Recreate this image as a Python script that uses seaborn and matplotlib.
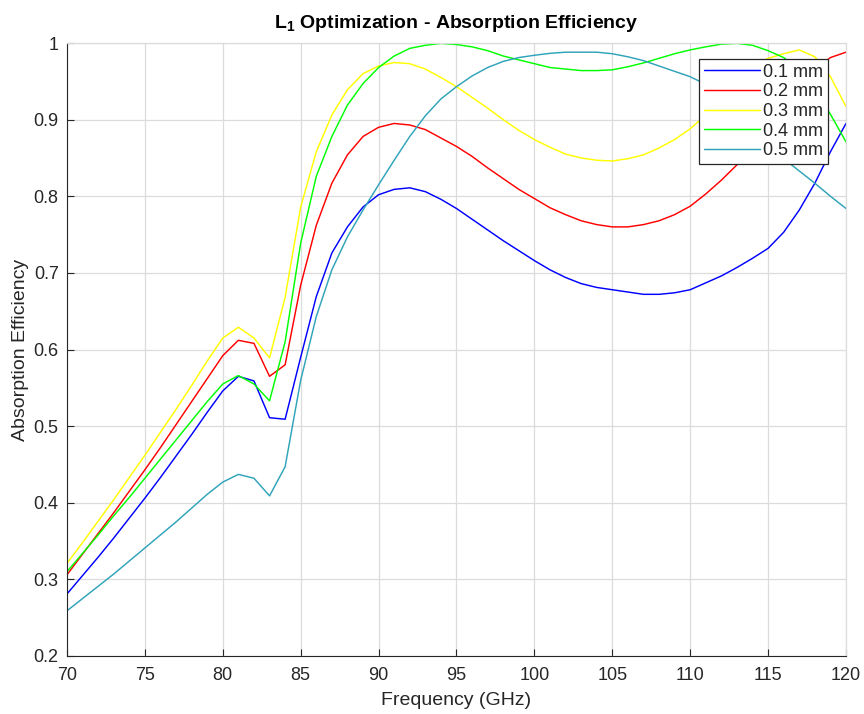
import matplotlib
matplotlib.use("Agg")
import matplotlib.pyplot as plt
import seaborn as sns
import pandas as pd
from matplotlib.ticker import FuncFormatter, MultipleLocator

# Frequency sweep (GHz) and absorption efficiency for each layer thickness
freq = list(range(70, 121))

eff_01 = [0.281, 0.305, 0.329, 0.354, 0.380, 0.406, 0.433, 0.461, 0.489, 0.518,
          0.546, 0.565, 0.559, 0.511, 0.509, 0.590, 0.669, 0.726, 0.760, 0.786,
          0.802, 0.809, 0.811, 0.806, 0.796, 0.784, 0.770, 0.756, 0.742, 0.729,
          0.716, 0.704, 0.694, 0.686, 0.681, 0.678, 0.675, 0.672, 0.672, 0.674,
          0.678, 0.687, 0.696, 0.707, 0.719, 0.732, 0.753, 0.782, 0.817, 0.858,
          0.895]
eff_02 = [0.306, 0.333, 0.360, 0.387, 0.415, 0.443, 0.472, 0.502, 0.532, 0.562,
          0.592, 0.612, 0.608, 0.565, 0.580, 0.684, 0.762, 0.817, 0.854, 0.878,
          0.890, 0.895, 0.893, 0.887, 0.876, 0.865, 0.852, 0.837, 0.823, 0.809,
          0.797, 0.785, 0.776, 0.768, 0.763, 0.760, 0.760, 0.763, 0.768, 0.776,
          0.787, 0.803, 0.821, 0.841, 0.865, 0.890, 0.915, 0.940, 0.965, 0.981,
          0.988]
eff_03 = [0.321, 0.348, 0.376, 0.404, 0.433, 0.462, 0.492, 0.522, 0.553, 0.585,
          0.615, 0.629, 0.615, 0.589, 0.668, 0.786, 0.858, 0.906, 0.939, 0.960,
          0.970, 0.9745, 0.973, 0.966, 0.955, 0.943, 0.929, 0.915, 0.900, 0.886,
          0.874, 0.864, 0.855, 0.850, 0.847, 0.846, 0.849, 0.854, 0.863, 0.874,
          0.888, 0.906, 0.930, 0.953, 0.970, 0.980, 0.986, 0.991, 0.982, 0.956,
          0.917]
eff_04 = [0.310, 0.334, 0.358, 0.383, 0.407, 0.432, 0.457, 0.482, 0.507, 0.532,
          0.555, 0.566, 0.555, 0.533, 0.610, 0.739, 0.826, 0.878, 0.919, 0.947,
          0.968, 0.983, 0.993, 0.997, 0.9995, 0.998, 0.995, 0.990, 0.983, 0.978,
          0.973, 0.968, 0.966, 0.964, 0.964, 0.965, 0.969, 0.974, 0.980, 0.986,
          0.991, 0.995, 0.9985, 0.9995, 0.997, 0.990, 0.981, 0.965, 0.940, 0.907,
          0.871]
eff_05 = [0.259, 0.275, 0.291, 0.307, 0.324, 0.341, 0.358, 0.375, 0.393, 0.411,
          0.427, 0.437, 0.432, 0.409, 0.447, 0.560, 0.643, 0.704, 0.747, 0.782,
          0.815, 0.847, 0.878, 0.905, 0.927, 0.943, 0.957, 0.968, 0.976, 0.981,
          0.984, 0.9865, 0.988, 0.988, 0.988, 0.986, 0.982, 0.977, 0.970, 0.963,
          0.956, 0.946, 0.932, 0.913, 0.893, 0.871, 0.849, 0.833, 0.817, 0.800,
          0.784]

thickness = ["0.1 mm", "0.2 mm", "0.3 mm", "0.4 mm", "0.5 mm"]
series = [eff_01, eff_02, eff_03, eff_04, eff_05]
colors = ["#0000ff", "#ff0000", "#ffff00", "#00ff00", "#2fa3b9"]

df = pd.concat(
    [pd.DataFrame({"Frequency": freq, "Efficiency": vals, "Thickness": name})
     for name, vals in zip(thickness, series)],
    ignore_index=True,
)

sns.set_theme(style="white")
plt.rcParams["font.family"] = ["Liberation Sans", "DejaVu Sans"]
plt.rcParams["mathtext.fontset"] = "custom"
plt.rcParams["mathtext.rm"] = "Liberation Sans"
plt.rcParams["mathtext.bf"] = "Liberation Sans:bold"

fig = plt.figure(figsize=(8.64, 7.14), dpi=100)
ax = fig.add_axes([67 / 864, 1 - 656 / 714, (846 - 67) / 864, (656 - 43) / 714])

sns.lineplot(
    data=df, x="Frequency", y="Efficiency", hue="Thickness",
    palette=dict(zip(thickness, colors)), hue_order=thickness,
    estimator=None, sort=False, linewidth=1.05, ax=ax,
)

ax.set_xlim(70, 120)
ax.set_ylim(0.2, 1.0)
ax.xaxis.set_major_locator(MultipleLocator(5))
ax.yaxis.set_major_locator(MultipleLocator(0.1))
ax.yaxis.set_major_formatter(FuncFormatter(lambda v, p: f"{v:g}"))

ax.grid(True, color="#dcdcdc", linewidth=0.9)
ax.set_axisbelow(True)
for side in ["top", "right"]:
    ax.spines[side].set_color("#dcdcdc")
    ax.spines[side].set_linewidth(0.9)
for side in ["left", "bottom"]:
    ax.spines[side].set_color("#262626")
    ax.spines[side].set_linewidth(0.8)

ax.tick_params(axis="both", which="major", direction="in", length=5,
               width=0.8, color="#262626", labelsize=13,
               labelcolor="#262626", bottom=True, left=True)
ax.tick_params(axis="x", pad=8)
ax.tick_params(axis="y", pad=6)

ax.set_xlabel("Frequency (GHz)", fontsize=14, color="#262626", labelpad=6)
ax.set_ylabel("Absorption Efficiency", fontsize=14, color="#262626", labelpad=3)
ax.set_title(r"$\mathbf{L_1}$ Optimization - Absorption Efficiency",
             fontsize=14, fontweight="bold", color="black", pad=11)

handles, labels = ax.get_legend_handles_labels()
leg = ax.legend(
    handles, labels, loc="upper right",
    bbox_to_anchor=((828 - 67) / 779, (656 - 59) / 613),
    borderaxespad=0, fancybox=False, framealpha=1, edgecolor="#262626",
    fontsize=13, handlelength=3.1, handletextpad=0.2, labelspacing=0.15,
    borderpad=0.25,
)
leg.get_frame().set_linewidth(0.9)

fig.savefig("out.png", dpi=100)
